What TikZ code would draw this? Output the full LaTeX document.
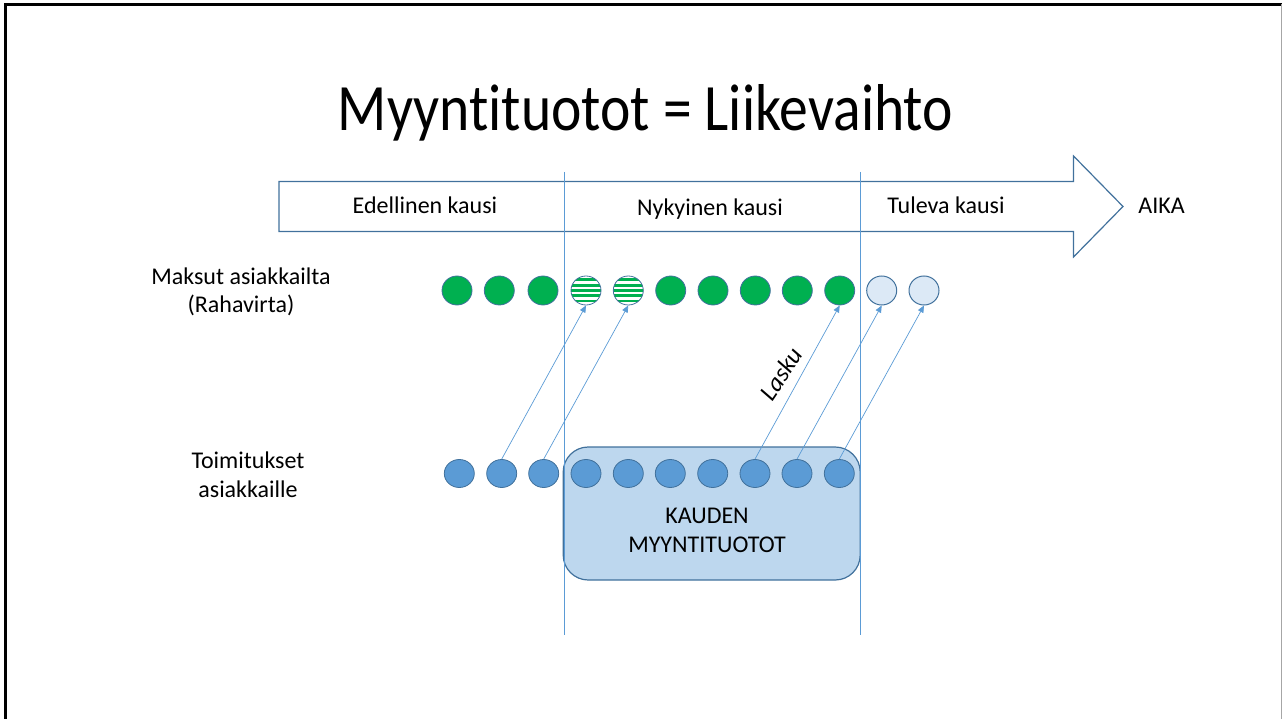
\documentclass[tikz,border=0pt]{standalone}
\usepackage{fontspec}
\setmainfont{Carlito}[Ligatures=NoCommon]
\usetikzlibrary{shapes.geometric,arrows.meta}
\definecolor{edge}{HTML}{41719C}
\definecolor{vline}{HTML}{5B9BD5}
\definecolor{mgreen}{HTML}{00B050}
\definecolor{bluefill}{HTML}{5B9BD5}
\definecolor{boxfill}{HTML}{BDD7EE}
\definecolor{lightfill}{HTML}{DCE9F6}
\tikzset{
  dot/.style={ellipse, minimum width=30pt, minimum height=29pt, inner sep=0pt, draw=edge, line width=0.8pt},
  gdot/.style={dot, fill=mgreen},
  sdot/.style={dot, fill=white, path picture={
      \foreach \k in {-2,...,2}{
        \fill[mgreen, shift={(path picture bounding box.center)}] (-20pt,{\k*5.3pt-1.4pt}) rectangle ++(40pt,2.8pt);
      }}},
  ldot/.style={dot, fill=lightfill, line width=1pt},
  bdot/.style={dot, fill=bluefill, minimum height=28pt},
  lbl/.style={font=\fontsize{24}{28}\selectfont, anchor=base, inner sep=0pt},
  conn/.style={draw=vline, line width=0.7pt, -{Triangle[length=7pt,width=6pt]}},
  vln/.style={draw=vline, line width=1pt},
}
\begin{document}
\begin{tikzpicture}[x=1pt,y=-1pt]
\useasboundingbox (0,0) rectangle (1283,719);
% frame
\draw[black, line width=3pt] (5.5,719) -- (5.5,4.5) -- (1282,4.5);
\draw[gray!70, line width=1.5pt] (1281.5,4.5) -- (1281.5,719);
% title
\node[anchor=base, inner sep=0pt] (title) at (645.5,131) {\resizebox{615pt}{46pt}{Myyntituotot = Liikevaihto}};
% time arrow
\draw[edge, line width=1.2pt, fill=white] (279,181.5) -- (1073.5,181.5) -- (1073.5,156) -- (1123,206.5) -- (1073.5,257) -- (1073.5,231.5) -- (279,231.5) -- cycle;
\node[lbl] (ed) at (425,214) {Edellinen kausi};
\node[lbl] (ny) at (710,216) {Nykyinen kausi};
\node[lbl] (tu) at (946,214) {Tuleva kausi};
\node[lbl] (aika) at (1161.5,214) {AIKA};
% box
\node[draw=edge, line width=1.2pt, fill=boxfill, rounded corners=25pt, minimum width=297pt, minimum height=133pt, inner sep=0pt] (box) at (711.7,513.5) {};
\node[lbl] (k1) at (707,523) {KAUDEN};
\node[lbl] (k2) at (707,552) {MYYNTITUOTOT};
% period lines
\coordinate (v1t) at (564,172); \coordinate (v1b) at (564,635);
\coordinate (v2t) at (860,172); \coordinate (v2b) at (860,635);
\draw[vln] (v1t) -- (v1b);
\draw[vln] (v2t) -- (v2b);
% row labels
\node[lbl] (m1) at (241,285) {Maksut asiakkailta};
\node[lbl] (m2) at (241,313) {(Rahavirta)};
\node[lbl] (t1) at (248,468) {Toimitukset};
\node[lbl] (t2) at (248,497) {asiakkaille};
% payments
\node[gdot] (g1) at (457,290.5) {};
\node[gdot] (g2) at (499.3,290.5) {};
\node[gdot] (g3) at (543,290.5) {};
\node[sdot] (g4) at (586,290.5) {};
\node[sdot] (g5) at (628.3,290.5) {};
\node[gdot] (g6) at (670.7,290.5) {};
\node[gdot] (g7) at (713,290.5) {};
\node[gdot] (g8) at (755.3,290.5) {};
\node[gdot] (g9) at (797.3,290.5) {};
\node[gdot] (g10) at (839.7,290.5) {};
\node[ldot] (g11) at (881.7,290.5) {};
\node[ldot] (g12) at (924,290.5) {};
% deliveries
\node[bdot] (b1) at (459.3,473.5) {};
\node[bdot] (b2) at (501.7,473.5) {};
\node[bdot] (b3) at (543.7,473.5) {};
\node[bdot] (b4) at (586,473.5) {};
\node[bdot] (b5) at (628.3,473.5) {};
\node[bdot] (b6) at (670.3,473.5) {};
\node[bdot] (b7) at (712.7,473.5) {};
\node[bdot] (b8) at (755,473.5) {};
\node[bdot] (b9) at (797,473.5) {};
\node[bdot] (b10) at (839.3,473.5) {};
% connectors
\draw[conn] (b2.north) -- (g4.south);
\draw[conn] (b3.north) -- (g5.south);
\draw[conn] (b8.north) -- (g10.south);
\draw[conn] (b9.north) -- (g11.south);
\draw[conn] (b10.north) -- (g12.south);
\node[font=\fontsize{25}{28}\selectfont\itshape, rotate=56, inner sep=0pt] (lasku) at (781,374) {Lasku};
\end{tikzpicture}
\end{document}
